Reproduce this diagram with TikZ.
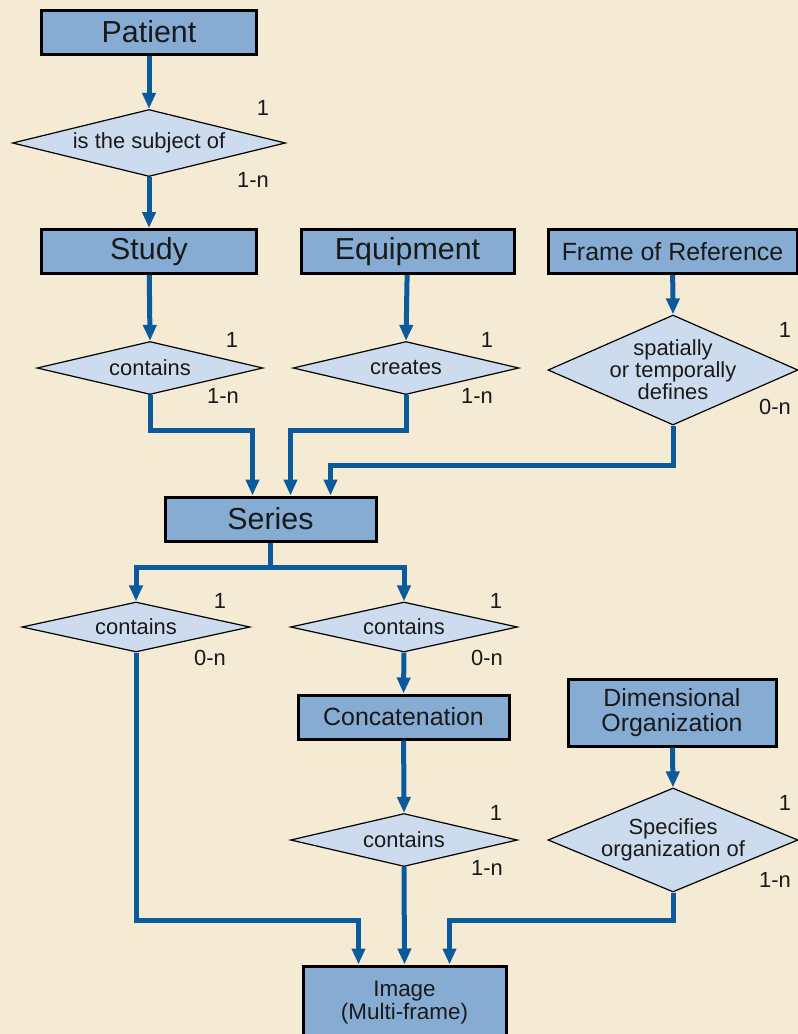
\documentclass[tikz,border=0pt]{standalone}
\usepackage{fontspec}
\setmainfont{Liberation Sans}
\usetikzlibrary{shapes.geometric,arrows.meta}

\definecolor{paper}{HTML}{F5EAD3}
\definecolor{boxblue}{HTML}{87ACD4}
\definecolor{relblue}{HTML}{CCDCEE}
\definecolor{linkblue}{HTML}{0B5A9C}

\begin{document}
\begin{tikzpicture}[
    x=1bp, y=-1bp,
    entity/.style={draw=black, line width=3bp, fill=boxblue, text=black!90,
        inner sep=0pt, minimum height=44bp, align=center,
        font=\fontsize{30.5}{32}\selectfont},
    small entity/.style={entity, font=\fontsize{25}{25}\selectfont},
    relation/.style={diamond, draw=black, line width=1.2bp, fill=relblue,
        inner sep=0pt, label={[rtext]center:#1}},
    rtext/.style={align=center, inner sep=0pt, text=black!90,
        font=\fontsize{22}{22}\selectfont},
    card/.style={inner sep=0pt, text=black!90, font=\fontsize{22}{22}\selectfont},
    link/.style={line width=5bp, draw=linkblue},
    arrow/.style={link, -{Triangle[width=13bp,length=16bp]}}
]

    % Paper background
    \fill[paper] (0,0) rectangle (798,1034);
    \useasboundingbox (0,0) rectangle (798,1034);

    % Draw the entities
    \node[entity, minimum width=214bp] (patient) at (149,32) {Patient};
    \node[entity, minimum width=214bp] (study) at (149,251.5) {Study};
    \node[entity, minimum width=213bp] (equip) at (407.5,251.5) {Equipment};
    \node[small entity, minimum width=249bp] (frame) at (672.5,251.5) {Frame of Reference};
    \node[entity, minimum width=211bp] (series) at (270.5,519) {Series};
    \node[small entity, minimum width=211bp] (concat) at (403.5,717) {Concatenation};
    \node[small entity, minimum width=208bp, minimum height=67bp] (dimorg) at (672,712.5)
        {Dimensional\\Organization};
    \node[entity, minimum width=203bp, minimum height=74bp,
        font=\fontsize{22.5}{23}\selectfont] (image) at (404.5,1003)
        {Image\\(Multi-frame)};

    % Draw the relations
    \node[relation={is the subject of}, minimum width=273bp, minimum height=67bp]
        (subj) at (149,143) {};
    \node[relation={contains}, minimum width=226bp, minimum height=53bp]
        (contS) at (150,368) {};
    \node[relation={creates}, minimum width=226bp, minimum height=53bp]
        (creates) at (406,368) {};
    \node[relation={spatially\\or temporally\\defines}, minimum width=250bp, minimum height=110bp]
        (defines) at (673,370) {};
    \node[relation={contains}, minimum width=228bp, minimum height=50bp]
        (contL) at (136,627) {};
    \node[relation={contains}, minimum width=227bp, minimum height=50bp]
        (contR) at (404,627) {};
    \node[relation={contains}, minimum width=227bp, minimum height=53bp]
        (contC) at (404,840) {};
    \node[relation={Specifies\\organization of}, minimum width=250bp, minimum height=104bp]
        (specs) at (673,840) {};

    % Annotate the cardinalities
    \foreach \name/\x/\y/\txt in {
        s1/263/108/1, s2/253/180/1-n,
        c1/232/340/1, c2/223/396/1-n,
        e1/487/340/1, e2/477/396/1-n,
        f1/785/330/1, f2/775/407/0-n,
        l1/220/601/1, l2/210/658/0-n,
        r1/496/601/1, r2/487/658/0-n,
        k1/496/813/1, k2/487/868/1-n,
        d1/785/803/1, d2/775/880/1-n}
        \node[card] (card-\name) at (\x,\y) {\txt};

    % Connect the entities with the relations
    \draw[arrow] (patient) -- (subj.north);
    \draw[arrow] (subj.south) -- (study.north);
    \draw[arrow] (study) -- (contS.north);
    \draw[arrow] (equip) -- (creates.north);
    \draw[arrow] (frame) -- (defines.north);

    % Feed the series
    \draw[arrow] (contS.south) -- ++(0,35) -| ([xshift=-18bp]series.north);
    \draw[arrow] (creates.south) -- ++(0,35) -| ([xshift=20bp]series.north);
    \draw[arrow] (defines.south) -- ++(0,40) -| ([xshift=60bp]series.north);

    % Split below the series
    \draw[link] (series.south) -- ++(0,25) coordinate (split);
    \draw[arrow] (split) -| (contL.north);
    \draw[arrow] (split) -| (contR.north);
    \draw[arrow] (contR.south) -- (concat.north);
    \draw[arrow] (concat) -- (contC.north);
    \draw[arrow] (dimorg) -- (specs.north);

    % Feed the image
    \draw[arrow] (contL.south) -- ++(0,268) -| ([xshift=-46bp]image.north);
    \draw[arrow] (contC.south) -- (image.north);
    \draw[arrow] (specs.south) -- ++(0,28) -| ([xshift=45bp]image.north);
\end{tikzpicture}
\end{document}
